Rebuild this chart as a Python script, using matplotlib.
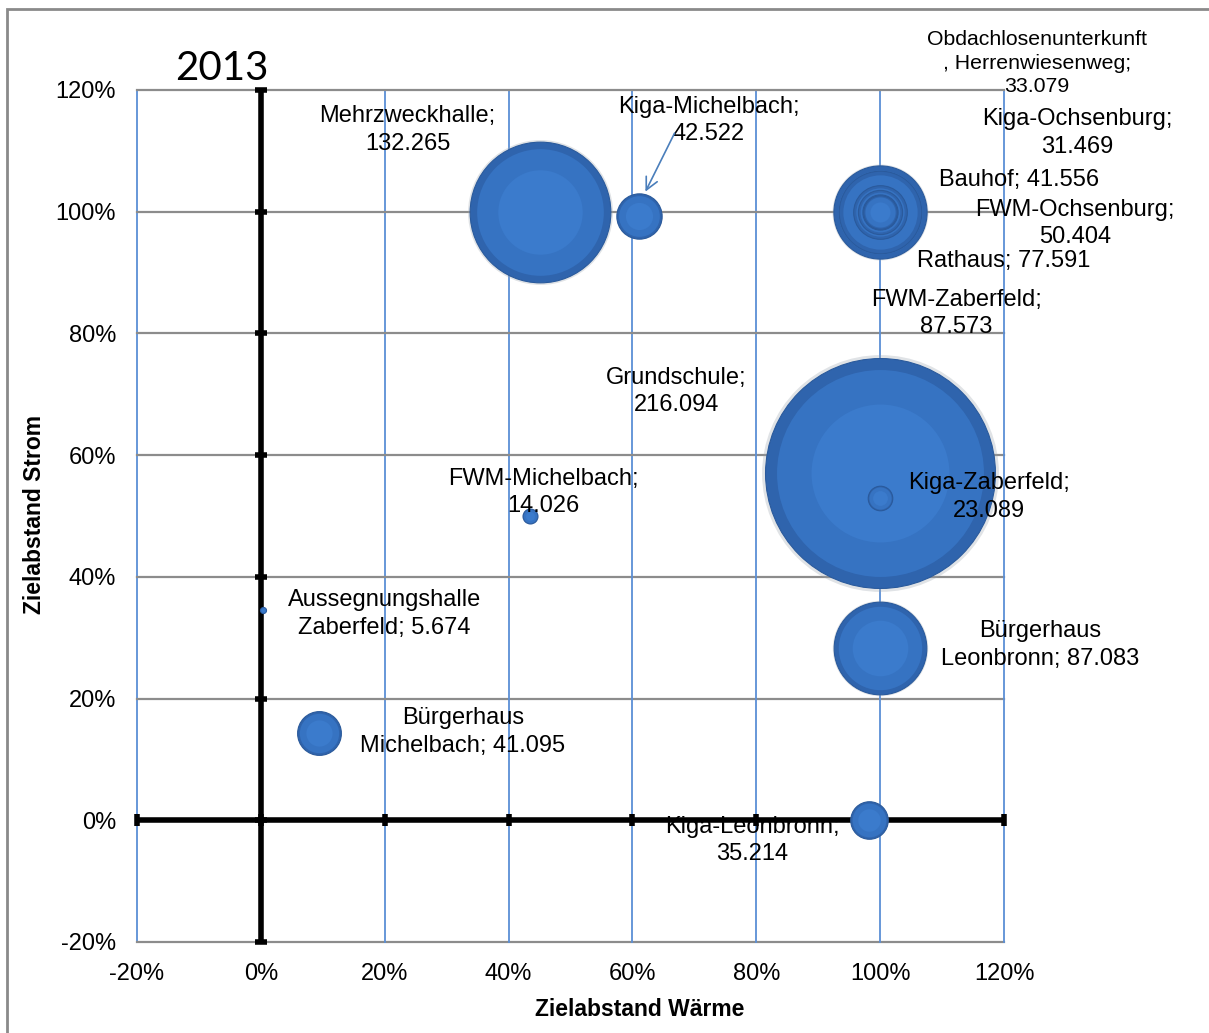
import numpy as np
import matplotlib
matplotlib.use("Agg")
import matplotlib.pyplot as plt
from matplotlib.patches import Rectangle
from matplotlib.ticker import PercentFormatter

plt.rcParams['font.family'] = ['Liberation Sans', 'DejaVu Sans']
plt.rcParams['axes.unicode_minus'] = False

# Daten: Zielabstand Wärme (x), Zielabstand Strom (y), Blasengröße
names = ['Mehrzweckhalle', 'Kiga-Michelbach', 'Obdachlosenunterkunft\n, Herrenwiesenweg',
         'Kiga-Ochsenburg', 'Bauhof', 'FWM-Ochsenburg', 'Rathaus', 'FWM-Zaberfeld',
         'Grundschule', 'FWM-Michelbach', 'Kiga-Zaberfeld', 'Aussegnungshalle\nZaberfeld',
         'Bürgerhaus\nLeonbronn', 'Bürgerhaus\nMichelbach', 'Kiga-Leonbronn']
x_waerme = [45, 61, 100, 100, 100, 100, 100, 100, 100, 43.5, 100, 0.3, 100, 9.4, 98.2]
y_strom = [100, 99.3, 100, 100, 100, 100, 100, 100, 57, 50, 53, 34.5, 28.3, 14.3, 0]
groesse = [132.265, 42.522, 33.079, 31.469, 41.556, 50.404, 77.591, 87.573,
           216.094, 14.026, 23.089, 5.674, 87.083, 41.095, 35.214]

# Beschriftungen: Text-Layout (Position in Achsen-Einheiten, Trenner)
label_pos = {
    'Mehrzweckhalle': (23.7, 113.4, ';\n'),
    'Kiga-Michelbach': (72.3, 115.0, ';\n'),
    'Obdachlosenunterkunft\n, Herrenwiesenweg': (125.3, 124.4, ';\n'),
    'Kiga-Ochsenburg': (131.9, 112.9, ';\n'),
    'Bauhof': (122.4, 105.2, '; '),
    'FWM-Ochsenburg': (131.5, 98.1, ';\n'),
    'Rathaus': (120.0, 91.9, '; '),
    'FWM-Zaberfeld': (112.3, 83.3, ';\n'),
    'Grundschule': (67.1, 70.5, ';\n'),
    'FWM-Michelbach': (45.6, 53.9, ';\n'),
    'Kiga-Zaberfeld': (117.6, 53.1, ';\n'),
    'Aussegnungshalle\nZaberfeld': (20.0, 33.9, '; '),
    'Bürgerhaus\nLeonbronn': (125.8, 28.8, '; '),
    'Bürgerhaus\nMichelbach': (32.6, 14.5, '; '),
    'Kiga-Leonbronn': (79.4, -3.3, ';\n'),
}

ticks = [-20, 0, 20, 40, 60, 80, 100, 120]

fig = plt.figure(figsize=(12.09, 10.33), dpi=100)
ax = fig.add_axes([137 / 1209, 91 / 1033, 867 / 1209, 852 / 1033])

# Rahmen des Diagrammbereichs
fig.patches.append(Rectangle((7 / 1209, -0.1), 1.2, 1024 / 1033 + 0.1,
                             transform=fig.transFigure, fill=False,
                             edgecolor='#8a8a8a', linewidth=2))

ax.set_xlim(-20, 120)
ax.set_ylim(-20, 120)
ax.set_xticks(ticks)
ax.set_yticks(ticks)
ax.xaxis.set_major_formatter(PercentFormatter(decimals=0))
ax.yaxis.set_major_formatter(PercentFormatter(decimals=0))
ax.tick_params(length=0, labelsize=17)
ax.tick_params(axis='x', pad=15)
ax.tick_params(axis='y', pad=15)
for s in ax.spines.values():
    s.set_visible(False)

for t in ticks:
    ax.axvline(t, color='#5b8fd6', linewidth=1.3, zorder=0, clip_on=False)
    ax.axhline(t, color='#8c8c8c', linewidth=1.6, zorder=0, clip_on=False)

# Achsenkreuz bei 0
ax.axhline(0, color='black', linewidth=4, zorder=1)
ax.axvline(0, color='black', linewidth=4, zorder=1)
ax.plot(np.zeros(len(ticks)), ticks, ls='none', marker='_', ms=8, mew=4,
        color='black', zorder=1, clip_on=False)
ax.plot(ticks, np.zeros(len(ticks)), ls='none', marker='|', ms=8, mew=4,
        color='black', zorder=1, clip_on=False)

# Blasen: Durchmesser proportional zum Wert, größte zuerst
px_per_unit = 1.064
order = np.argsort(groesse)[::-1]
for i in order:
    d = groesse[i] * px_per_unit * 72 / 100
    ax.scatter(x_waerme[i], y_strom[i], s=(d * 1.03) ** 2, color='#9aa3ad', alpha=0.3,
               linewidths=0, zorder=2)
    ax.scatter(x_waerme[i], y_strom[i], s=d ** 2, color='#2f64ad',
               edgecolors='#2a5a9c', linewidths=0.8, zorder=3)
    ax.scatter(x_waerme[i], y_strom[i], s=(d * 0.9) ** 2, color='#3673c2',
               linewidths=0, zorder=3)
    ax.scatter(x_waerme[i], y_strom[i], s=(d * 0.6) ** 2, color='#3b7bcc',
               linewidths=0, zorder=3)

for i, n in enumerate(names):
    lx, ly, sep = label_pos[n]
    txt = f"{n}{sep}{groesse[i]:.3f}"
    if n.startswith('Obdach'):
        ax.text(lx, ly, txt, ha='center', va='center', fontsize=15.3,
                linespacing=1.3, zorder=5, clip_on=False)
    else:
        ax.text(lx, ly, txt, ha='center', va='center', fontsize=17,
                linespacing=1.32, zorder=5, clip_on=False)

# Pfeil zur Blase Kiga-Michelbach
ax.annotate('', xy=(62.1, 103.3), xytext=(66.8, 112.9),
            arrowprops=dict(arrowstyle='->', color='#4a7ebb', lw=1.2,
                            shrinkA=0, shrinkB=0, mutation_scale=22), zorder=5)

fig.text(640 / 1209, 1 - 1010 / 1033, 'Zielabstand Wärme', fontsize=16.5,
         fontweight='bold', ha='center', va='center')
fig.text(35 / 1209, 1 - 515 / 1033, 'Zielabstand Strom', fontsize=16.5,
         fontweight='bold', ha='center', va='center', rotation=90)
fig.text(222 / 1209, 1 - 69 / 1033, '2013', fontsize=29, family=['Lato', 'DejaVu Sans'],
         ha='center', va='center')

fig.savefig('out.png', dpi=100, facecolor='white')
